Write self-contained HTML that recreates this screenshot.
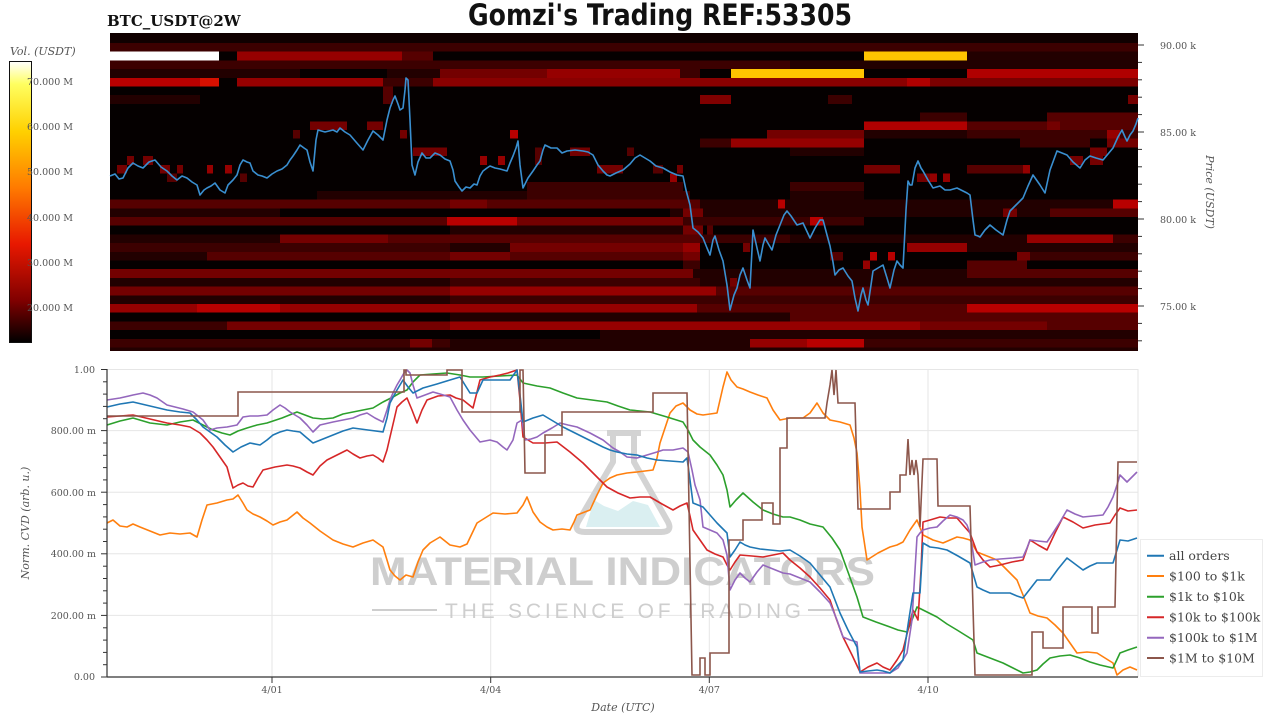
<!DOCTYPE html>
<html><head><meta charset="utf-8"><style>
html,body{margin:0;padding:0;background:#fff;}
svg{display:block;}
.ax{font-family:"DejaVu Serif","Liberation Serif",serif;font-size:9.5px;fill:#555;}
.lg{font-family:"DejaVu Serif","Liberation Serif",serif;font-size:12.5px;fill:#444;}
.it{font-family:"DejaVu Serif","Liberation Serif",serif;font-style:italic;font-size:11px;fill:#555;}
</style></head><body>
<svg width="1280" height="720" viewBox="0 0 1280 720" xmlns="http://www.w3.org/2000/svg">
<defs>
<linearGradient id="hot" x1="0" y1="0" x2="0" y2="1">
<stop offset="0" stop-color="#ffffff"/>
<stop offset="0.08" stop-color="#ffff60"/>
<stop offset="0.25" stop-color="#ffd000"/>
<stop offset="0.45" stop-color="#ff7a00"/>
<stop offset="0.65" stop-color="#e81800"/>
<stop offset="0.85" stop-color="#800000"/>
<stop offset="1" stop-color="#000000"/>
</linearGradient>
</defs>

<!-- Titles -->
<text x="107" y="26" font-family="DejaVu Serif, Liberation Serif, serif" font-weight="bold" font-size="15" fill="#111">BTC_USDT@2W</text>
<text x="468" y="25" font-family="DejaVu Sans, Liberation Sans, sans-serif" font-weight="bold" font-size="29" fill="#111" textLength="384" lengthAdjust="spacingAndGlyphs">Gomzi's Trading REF:53305</text>

<!-- Colorbar -->
<text x="10" y="55" class="it">Vol. (USDT)</text>
<rect x="9.5" y="61.5" width="22" height="281" fill="url(#hot)" stroke="#111" stroke-width="1"/>
<g class="ax" font-size="10">
<text x="27" y="85">70.000 M</text>
<text x="27" y="130">60.000 M</text>
<text x="27" y="175">50.000 M</text>
<text x="27" y="221">40.000 M</text>
<text x="27" y="266">30.000 M</text>
<text x="27" y="311">20.000 M</text>
</g>

<!-- Heatmap -->
<g shape-rendering="crispEdges">
<rect x="110" y="33" width="1028" height="318" fill="#050000"/>
<rect x="110" y="33" width="1028" height="10" fill="#100000"/>
<!-- row0 -->
<rect x="110" y="43" width="1028" height="8.7" fill="#3c0000"/>
<!-- row1 -->
<rect x="110" y="51.7" width="109" height="8.7" fill="#ffffff"/>
<rect x="237" y="51.7" width="165" height="8.7" fill="#960000"/>
<rect x="402" y="51.7" width="31" height="8.7" fill="#560000"/>
<rect x="864" y="51.7" width="103" height="8.7" fill="#ffc400"/>
<rect x="967" y="51.7" width="171" height="8.7" fill="#220000"/>
<!-- row2 -->
<rect x="110" y="60.4" width="680" height="8.7" fill="#3c0000"/>
<rect x="790" y="60.4" width="348" height="8.7" fill="#220000"/>
<!-- row3 -->
<rect x="110" y="69.1" width="190" height="8.7" fill="#220000"/>
<rect x="387" y="69.1" width="53" height="8.7" fill="#220000"/>
<rect x="440" y="69.1" width="107" height="8.7" fill="#740000"/>
<rect x="547" y="69.1" width="133" height="8.7" fill="#960000"/>
<rect x="680" y="69.1" width="20" height="8.7" fill="#3c0000"/>
<rect x="731" y="69.1" width="133" height="8.7" fill="#ffc400"/>
<rect x="967" y="69.1" width="171" height="8.7" fill="#b00000"/>
<!-- row4 -->
<rect x="110" y="77.8" width="90" height="8.7" fill="#b80000"/>
<rect x="200" y="77.8" width="19" height="8.7" fill="#d81000"/>
<rect x="237" y="77.8" width="146" height="8.7" fill="#960000"/>
<rect x="383" y="77.8" width="50" height="8.7" fill="#3c0000"/>
<rect x="433" y="77.8" width="474" height="8.7" fill="#8a0000"/>
<rect x="907" y="77.8" width="23" height="8.7" fill="#b00000"/>
<rect x="930" y="77.8" width="208" height="8.7" fill="#7a0000"/>
<!-- row6 -->
<rect x="110" y="95.2" width="90" height="8.7" fill="#220000"/>
<rect x="700" y="95.2" width="31" height="8.7" fill="#800000"/>
<rect x="828" y="95.2" width="24" height="8.7" fill="#3c0000"/>
<rect x="1128" y="95.2" width="10" height="8.7" fill="#740000"/>
<rect x="383" y="86.5" width="10" height="17.4" fill="#560000"/>
<!-- row8 -->
<rect x="920" y="112.6" width="47" height="8.7" fill="#3c0000"/>
<rect x="1047" y="112.6" width="91" height="8.7" fill="#560000"/>
<!-- row9 -->
<rect x="310" y="121.3" width="37" height="8.7" fill="#740000"/>
<rect x="367" y="121.3" width="16" height="8.7" fill="#740000"/>
<rect x="864" y="121.3" width="103" height="8.7" fill="#b00000"/>
<rect x="967" y="121.3" width="80" height="8.7" fill="#560000"/>
<rect x="1047" y="121.3" width="13" height="8.7" fill="#740000"/>
<rect x="1060" y="121.3" width="78" height="8.7" fill="#560000"/>
<!-- row10 -->
<rect x="293" y="130" width="7" height="8.7" fill="#560000"/>
<rect x="400" y="130" width="7" height="8.7" fill="#740000"/>
<rect x="510" y="130" width="8" height="8.7" fill="#b80000"/>
<rect x="767" y="130" width="97" height="8.7" fill="#740000"/>
<rect x="864" y="130" width="103" height="8.7" fill="#220000"/>
<rect x="967" y="130" width="140" height="8.7" fill="#3c0000"/>
<rect x="1107" y="130" width="13" height="8.7" fill="#960000"/>
<rect x="1120" y="130" width="18" height="8.7" fill="#3c0000"/>
<!-- row11 -->
<rect x="700" y="138.7" width="31" height="8.7" fill="#3c0000"/>
<rect x="731" y="138.7" width="133" height="8.7" fill="#960000"/>
<rect x="1020" y="138.7" width="70" height="8.7" fill="#3c0000"/>
<rect x="1107" y="138.7" width="31" height="8.7" fill="#740000"/>
<!-- row12 -->
<rect x="413" y="147.4" width="34" height="8.7" fill="#740000"/>
<rect x="570" y="147.4" width="20" height="8.7" fill="#740000"/>
<rect x="627" y="147.4" width="7" height="8.7" fill="#560000"/>
<rect x="790" y="147.4" width="74" height="8.7" fill="#220000"/>
<rect x="1090" y="147.4" width="17" height="8.7" fill="#740000"/>
<!-- row13 -->
<rect x="127" y="156.1" width="7" height="8.7" fill="#740000"/>
<rect x="143" y="156.1" width="10" height="8.7" fill="#740000"/>
<rect x="480" y="156.1" width="7" height="8.7" fill="#960000"/>
<rect x="498" y="156.1" width="7" height="8.7" fill="#960000"/>
<rect x="535" y="147.4" width="7" height="17.4" fill="#560000"/>
<rect x="1070" y="156.1" width="13" height="8.7" fill="#740000"/>
<rect x="1090" y="156.1" width="13" height="8.7" fill="#740000"/>
<!-- row14 -->
<rect x="117" y="164.8" width="10" height="8.7" fill="#740000"/>
<rect x="160" y="164.8" width="10" height="8.7" fill="#740000"/>
<rect x="177" y="164.8" width="6" height="8.7" fill="#740000"/>
<rect x="207" y="164.8" width="6" height="8.7" fill="#960000"/>
<rect x="225" y="164.8" width="7" height="8.7" fill="#960000"/>
<rect x="597" y="164.8" width="26" height="8.7" fill="#740000"/>
<rect x="653" y="164.8" width="10" height="8.7" fill="#560000"/>
<rect x="677" y="164.8" width="6" height="8.7" fill="#740000"/>
<rect x="864" y="164.8" width="36" height="8.7" fill="#740000"/>
<rect x="967" y="164.8" width="56" height="8.7" fill="#560000"/>
<rect x="1023" y="164.8" width="7" height="8.7" fill="#960000"/>
<!-- row15 -->
<rect x="167" y="173.5" width="10" height="8.7" fill="#560000"/>
<rect x="240" y="173.5" width="7" height="8.7" fill="#560000"/>
<rect x="670" y="173.5" width="7" height="8.7" fill="#960000"/>
<rect x="917" y="173.5" width="13" height="8.7" fill="#740000"/>
<rect x="930" y="173.5" width="7" height="8.7" fill="#960000"/>
<rect x="943" y="173.5" width="7" height="8.7" fill="#960000"/>
<!-- row16/17 -->
<rect x="527" y="182.2" width="156" height="8.7" fill="#3c0000"/>
<rect x="790" y="182.2" width="74" height="8.7" fill="#3c0000"/>
<rect x="317" y="190.9" width="210" height="8.7" fill="#220000"/>
<rect x="527" y="190.9" width="163" height="8.7" fill="#3c0000"/>
<rect x="790" y="190.9" width="74" height="8.7" fill="#220000"/>
<!-- row18 -->
<rect x="110" y="199.6" width="340" height="8.7" fill="#560000"/>
<rect x="450" y="199.6" width="37" height="8.7" fill="#740000"/>
<rect x="487" y="199.6" width="213" height="8.7" fill="#560000"/>
<rect x="700" y="199.6" width="78" height="8.7" fill="#220000"/>
<rect x="778" y="199.6" width="7" height="8.7" fill="#b80000"/>
<rect x="785" y="199.6" width="328" height="8.7" fill="#220000"/>
<rect x="1113" y="199.6" width="25" height="8.7" fill="#b80000"/>
<!-- row19 -->
<rect x="110" y="208.3" width="170" height="8.7" fill="#220000"/>
<rect x="670" y="208.3" width="333" height="8.7" fill="#220000"/>
<rect x="683" y="208.3" width="20" height="8.7" fill="#740000"/>
<rect x="1003" y="208.3" width="14" height="8.7" fill="#740000"/>
<rect x="1017" y="208.3" width="33" height="8.7" fill="#220000"/>
<rect x="1050" y="208.3" width="88" height="8.7" fill="#560000"/>
<!-- row20 -->
<rect x="110" y="217" width="337" height="8.7" fill="#560000"/>
<rect x="447" y="217" width="70" height="8.7" fill="#b80000"/>
<rect x="517" y="217" width="166" height="8.7" fill="#740000"/>
<rect x="683" y="217" width="127" height="8.7" fill="#3c0000"/>
<rect x="810" y="217" width="13" height="8.7" fill="#b80000"/>
<rect x="823" y="217" width="41" height="8.7" fill="#3c0000"/>
<!-- row21 -->
<rect x="450" y="225.7" width="233" height="8.7" fill="#220000"/>
<rect x="683" y="225.7" width="20" height="8.7" fill="#740000"/>
<rect x="707" y="225.7" width="6" height="8.7" fill="#560000"/>
<!-- row22 -->
<rect x="110" y="234.4" width="170" height="8.7" fill="#220000"/>
<rect x="280" y="234.4" width="108" height="8.7" fill="#740000"/>
<rect x="388" y="234.4" width="312" height="8.7" fill="#560000"/>
<rect x="700" y="234.4" width="90" height="8.7" fill="#3c0000"/>
<rect x="790" y="234.4" width="237" height="8.7" fill="#220000"/>
<rect x="1027" y="234.4" width="86" height="8.7" fill="#960000"/>
<rect x="1113" y="234.4" width="25" height="8.7" fill="#3c0000"/>
<!-- row23 -->
<rect x="110" y="243.1" width="340" height="8.7" fill="#3c0000"/>
<rect x="450" y="243.1" width="60" height="8.7" fill="#220000"/>
<rect x="510" y="243.1" width="173" height="8.7" fill="#740000"/>
<rect x="683" y="243.1" width="17" height="8.7" fill="#960000"/>
<rect x="743" y="243.1" width="7" height="8.7" fill="#740000"/>
<rect x="907" y="243.1" width="60" height="8.7" fill="#960000"/>
<rect x="967" y="243.1" width="171" height="8.7" fill="#220000"/>
<!-- row24 -->
<rect x="110" y="251.8" width="97" height="8.7" fill="#220000"/>
<rect x="207" y="251.8" width="243" height="8.7" fill="#560000"/>
<rect x="450" y="251.8" width="60" height="8.7" fill="#740000"/>
<rect x="510" y="251.8" width="173" height="8.7" fill="#560000"/>
<rect x="683" y="251.8" width="17" height="8.7" fill="#740000"/>
<rect x="830" y="251.8" width="13" height="8.7" fill="#560000"/>
<rect x="870" y="251.8" width="7" height="8.7" fill="#b80000"/>
<rect x="888" y="251.8" width="7" height="8.7" fill="#b80000"/>
<rect x="1017" y="251.8" width="13" height="8.7" fill="#740000"/>
<rect x="1030" y="251.8" width="108" height="8.7" fill="#3c0000"/>
<!-- row25 -->
<rect x="683" y="260.5" width="17" height="8.7" fill="#3c0000"/>
<rect x="863" y="260.5" width="7" height="8.7" fill="#960000"/>
<rect x="967" y="260.5" width="60" height="8.7" fill="#560000"/>
<!-- row26 -->
<rect x="110" y="269.2" width="583" height="8.7" fill="#740000"/>
<rect x="693" y="269.2" width="274" height="8.7" fill="#220000"/>
<rect x="967" y="269.2" width="171" height="8.7" fill="#560000"/>
<!-- row27 -->
<rect x="110" y="277.9" width="1028" height="8.7" fill="#220000"/>
<rect x="450" y="277.9" width="250" height="8.7" fill="#3c0000"/>
<rect x="730" y="277.9" width="7" height="8.7" fill="#740000"/>
<!-- row28 -->
<rect x="110" y="286.6" width="340" height="8.7" fill="#740000"/>
<rect x="450" y="286.6" width="266" height="8.7" fill="#960000"/>
<rect x="716" y="286.6" width="422" height="8.7" fill="#560000"/>
<!-- row29 -->
<rect x="110" y="295.3" width="340" height="8.7" fill="#220000"/>
<rect x="450" y="295.3" width="688" height="8.7" fill="#3c0000"/>
<!-- row30 -->
<rect x="110" y="304" width="87" height="8.7" fill="#960000"/>
<rect x="197" y="304" width="83" height="8.7" fill="#b80000"/>
<rect x="280" y="304" width="417" height="8.7" fill="#960000"/>
<rect x="697" y="304" width="270" height="8.7" fill="#560000"/>
<rect x="967" y="304" width="171" height="8.7" fill="#b80000"/>
<!-- row31 -->
<rect x="450" y="312.7" width="340" height="8.7" fill="#220000"/>
<rect x="790" y="312.7" width="348" height="8.7" fill="#560000"/>
<!-- row32 -->
<rect x="110" y="321.4" width="117" height="8.7" fill="#3c0000"/>
<rect x="227" y="321.4" width="223" height="8.7" fill="#740000"/>
<rect x="450" y="321.4" width="470" height="8.7" fill="#960000"/>
<rect x="920" y="321.4" width="127" height="8.7" fill="#740000"/>
<rect x="1047" y="321.4" width="91" height="8.7" fill="#560000"/>
<!-- row33 -->
<rect x="600" y="330.1" width="538" height="8.7" fill="#220000"/>
<!-- row34 -->
<rect x="110" y="338.8" width="300" height="8.7" fill="#3c0000"/>
<rect x="410" y="338.8" width="22" height="8.7" fill="#740000"/>
<rect x="432" y="338.8" width="18" height="8.7" fill="#3c0000"/>
<rect x="450" y="338.8" width="300" height="8.7" fill="#220000"/>
<rect x="750" y="338.8" width="57" height="8.7" fill="#960000"/>
<rect x="807" y="338.8" width="57" height="8.7" fill="#b80000"/>
<rect x="864" y="338.8" width="274" height="8.7" fill="#3c0000"/>
<!-- row35 -->
<rect x="110" y="347.5" width="1028" height="3.5" fill="#220000"/>
</g>

<!-- Price line -->
<polyline fill="none" stroke="#3a8fd0" stroke-width="1.6" stroke-linejoin="round" points="110,176 115,174 119,179 123,178 128,168 133,163 138,166 143,168 149,162 155,160 161,167 167,171 172,176 177,180 182,176 187,178 192,182 197,185 200,195 204,190 207,188 211,186 215,183 220,190 225,193 228,185 233,180 237,175 240,165 243,160 247,162 250,163 253,171 258,175 262,176 267,178 272,174 277,171 282,169 287,165 290,160 293,156 297,150 300,145 304,148 307,150 310,162 313,171 316,140 318,130 325,132 333,130 337,132 340,128 345,132 350,135 356,142 363,150 368,140 373,131 378,135 383,140 387,120 390,108 393,100 395,96 398,104 400,110 403,108 405,90 406,78 408,80 410,120 412,165 415,175 418,162 422,153 426,158 430,158 435,153 440,155 445,159 450,161 453,170 455,181 459,187 462,191 466,187 470,188 474,184 477,185 480,176 483,171 487,168 490,166 495,168 500,169 507,171 510,163 513,156 516,148 518,141 520,165 523,188 528,178 533,171 537,165 540,161 543,150 545,145 551,148 557,148 562,153 567,151 575,150 583,151 588,152 593,155 598,165 603,171 607,175 610,176 616,173 623,170 630,164 635,158 640,155 645,158 650,161 656,166 663,168 670,172 677,175 683,176 686,190 690,205 693,228 698,232 703,238 707,248 710,255 713,240 715,236 719,250 723,261 727,285 730,310 734,295 737,288 740,275 743,268 747,280 750,288 752,250 753,230 757,248 760,261 763,245 765,238 769,245 772,250 776,235 780,225 784,215 787,211 791,216 797,225 803,223 810,238 815,228 820,220 823,220 827,235 830,246 833,262 835,275 839,270 843,268 848,276 852,281 855,298 858,311 861,295 863,288 866,300 868,305 871,285 873,271 878,268 883,265 887,278 890,288 894,270 897,261 900,265 903,268 906,210 908,181 910,185 912,185 915,168 918,161 921,168 923,171 928,180 933,188 940,186 945,190 950,190 957,188 963,191 967,193 970,195 973,220 975,235 978,236 980,237 985,230 990,225 996,230 1003,235 1007,220 1010,211 1016,205 1023,198 1028,186 1033,175 1040,185 1045,193 1050,170 1057,151 1062,153 1067,155 1073,162 1080,168 1085,160 1090,156 1096,158 1103,160 1108,154 1113,148 1118,137 1122,130 1125,137 1127,141 1130,135 1133,131 1136,124 1138,118"/>

<!-- Right axis -->
<g stroke="#333" stroke-width="1">
<line x1="1138" y1="45" x2="1144" y2="45"/>
<line x1="1138" y1="62.4" x2="1142" y2="62.4"/>
<line x1="1138" y1="79.8" x2="1142" y2="79.8"/>
<line x1="1138" y1="97.2" x2="1142" y2="97.2"/>
<line x1="1138" y1="114.6" x2="1142" y2="114.6"/>
<line x1="1138" y1="132" x2="1144" y2="132"/>
<line x1="1138" y1="149.4" x2="1142" y2="149.4"/>
<line x1="1138" y1="166.8" x2="1142" y2="166.8"/>
<line x1="1138" y1="184.2" x2="1142" y2="184.2"/>
<line x1="1138" y1="201.6" x2="1142" y2="201.6"/>
<line x1="1138" y1="219" x2="1144" y2="219"/>
<line x1="1138" y1="236.4" x2="1142" y2="236.4"/>
<line x1="1138" y1="253.8" x2="1142" y2="253.8"/>
<line x1="1138" y1="271.2" x2="1142" y2="271.2"/>
<line x1="1138" y1="288.6" x2="1142" y2="288.6"/>
<line x1="1138" y1="306" x2="1144" y2="306"/>
<line x1="1138" y1="323.4" x2="1142" y2="323.4"/>
<line x1="1138" y1="340.8" x2="1142" y2="340.8"/>
</g>
<g class="ax" font-size="10">
<text x="1160" y="49">90.00 k</text>
<text x="1160" y="136">85.00 k</text>
<text x="1160" y="223">80.00 k</text>
<text x="1160" y="310">75.00 k</text>
</g>
<text class="it" transform="translate(1206,192) rotate(90)" text-anchor="middle">Price (USDT)</text>

<!-- Bottom chart grid -->
<g stroke="#e6e6e6" stroke-width="1">
<line x1="107" y1="369.5" x2="1138" y2="369.5"/>
<line x1="107" y1="430.6" x2="1138" y2="430.6"/>
<line x1="107" y1="492.2" x2="1138" y2="492.2"/>
<line x1="107" y1="553.8" x2="1138" y2="553.8"/>
<line x1="107" y1="615.4" x2="1138" y2="615.4"/>
<line x1="272" y1="369" x2="272" y2="677"/>
<line x1="490.7" y1="369" x2="490.7" y2="677"/>
<line x1="709.3" y1="369" x2="709.3" y2="677"/>
<line x1="928" y1="369" x2="928" y2="677"/>
<line x1="1138" y1="369" x2="1138" y2="677"/>
</g>

<!-- Watermark -->
<g opacity="0.9">
<path d="M607 433 L641 433 M613 433 L613 462 L578 522 Q573 532 585 532 L661 532 Q673 532 668 522 L634 462 L634 433" fill="none" stroke="#cfcfcf" stroke-width="6" stroke-linejoin="round"/>
<polygon points="586,527 594,500 604,506 618,511 633,501 648,505 660,527" fill="#d6eef0"/>
<text x="370" y="585" font-family="Liberation Sans, sans-serif" font-weight="bold" font-size="40" fill="#c9c9c9" textLength="505" lengthAdjust="spacingAndGlyphs">MATERIAL INDICATORS</text>
<text x="445" y="618" font-family="Liberation Sans, sans-serif" font-size="21" fill="#c9c9c9" textLength="356" lengthAdjust="spacing">THE SCIENCE OF TRADING</text>
<line x1="372" y1="610" x2="437" y2="610" stroke="#c9c9c9" stroke-width="2"/>
<line x1="808" y1="610" x2="873" y2="610" stroke="#c9c9c9" stroke-width="2"/>
</g>

<!-- Series -->
<g fill="none" stroke-width="1.6" stroke-linejoin="round">
<!-- orange -->
<polyline stroke="#ff7f0e" points="107,523 113,520 120,526 127,527 133,524 140,527 150,531 160,535 170,533 180,534 190,533 197,537 202,520 207,505 217,503 227,500 233,499 238,495 243,503 247,510 253,514 260,517 267,521 273,525 280,522 287,520 292,516 297,512 303,518 310,523 320,531 333,540 343,544 353,547 363,543 373,540 383,547 387,560 390,570 395,576 400,580 406,575 413,577 418,562 423,550 430,543 440,537 450,545 460,547 467,544 477,523 485,518 493,513 505,514 517,513 523,505 527,497 533,512 540,522 547,527 553,530 562,529 570,530 574,522 577,515 590,510 597,495 603,483 610,478 617,475 627,473 637,472 645,471 653,470 657,458 660,443 665,428 670,413 676,406 683,403 690,410 697,414 703,415 710,414 717,413 720,400 723,387 727,372 731,380 737,387 743,389 750,392 758,395 767,398 773,410 780,420 790,418 797,418 803,418 810,413 817,403 823,413 830,420 840,422 850,425 854,438 857,453 860,490 862,527 867,560 878,553 890,547 897,545 903,542 910,530 917,520 923,535 933,540 943,543 950,540 957,537 963,538 970,540 977,552 987,556 997,560 1007,570 1017,580 1023,595 1030,613 1038,616 1047,618 1055,625 1063,633 1070,643 1077,653 1087,652 1097,653 1105,658 1113,663 1117,675 1123,670 1130,667 1137,670"/>
<!-- green -->
<polyline stroke="#2ca02c" points="107,425 120,421 133,418 150,423 167,425 180,422 193,420 203,425 213,430 222,433 230,435 238,431 247,428 257,425 267,423 282,418 297,412 305,415 313,418 323,419 333,418 343,414 353,412 363,410 373,408 383,402 393,397 400,393 407,390 413,382 420,375 433,374 447,373 460,375 470,377 483,377 500,376 517,375 523,383 537,386 550,388 563,393 577,398 592,400 607,402 618,406 630,410 640,411 650,412 667,417 683,422 688,430 693,440 700,447 710,455 717,465 723,475 727,490 730,507 736,500 743,493 753,502 763,510 773,514 783,517 790,517 800,520 810,524 823,527 832,538 840,550 848,572 857,597 860,607 863,617 876,622 890,627 898,630 907,632 912,620 917,607 927,612 937,617 947,624 957,630 965,635 973,640 977,653 990,658 1003,663 1013,668 1023,673 1030,672 1037,670 1043,664 1050,658 1060,656 1070,655 1080,658 1090,662 1100,665 1113,668 1120,653 1128,650 1137,647"/>
<!-- red -->
<polyline stroke="#d62728" points="107,417 120,416 133,415 150,419 167,423 180,425 190,427 195,430 200,433 207,440 213,447 220,457 227,467 230,478 233,488 238,485 243,483 248,486 253,487 258,478 263,470 275,467 287,465 293,466 300,468 307,472 313,475 320,466 327,460 337,455 347,450 353,454 360,458 367,456 373,455 378,458 383,462 387,450 390,437 394,420 397,407 402,402 407,398 412,410 417,423 422,410 427,400 438,396 450,395 456,398 463,400 468,404 473,408 477,392 480,380 490,377 500,375 508,373 517,370 520,400 523,437 528,440 533,443 545,443 557,442 570,452 583,463 595,475 607,487 618,493 630,498 640,497 650,497 662,504 673,510 680,506 687,503 690,516 693,530 700,540 707,550 715,554 723,557 727,565 730,570 735,562 740,555 752,556 763,557 773,555 783,553 790,560 800,568 810,577 820,588 830,600 836,618 843,637 852,655 860,672 868,667 877,663 883,667 890,670 897,660 903,650 908,630 913,610 918,620 921,570 923,522 930,520 940,517 948,518 957,518 963,525 970,533 977,552 983,560 990,567 1000,565 1012,562 1023,560 1030,540 1038,545 1047,550 1055,533 1063,517 1073,522 1083,528 1095,525 1110,523 1115,515 1120,508 1128,511 1137,510"/>
<!-- purple -->
<polyline stroke="#9467bd" points="107,400 120,398 133,395 143,393 150,395 157,398 167,405 175,407 183,409 193,412 203,420 210,430 217,428 227,427 237,425 243,417 250,416 258,416 267,415 273,410 280,405 285,408 290,412 300,418 307,425 313,432 320,425 333,422 343,420 353,418 360,415 367,413 375,418 383,422 387,410 390,400 393,393 397,385 400,380 404,373 407,370 410,373 413,385 417,398 425,395 433,392 440,394 450,397 457,410 463,420 470,430 475,436 480,442 490,440 497,442 503,447 507,450 513,440 517,423 522,420 525,440 531,439 537,437 543,433 552,428 560,423 568,425 577,427 590,433 603,440 613,448 620,452 627,457 637,458 647,455 657,452 663,450 673,450 683,448 688,452 692,470 695,485 700,500 703,527 710,530 717,533 723,540 727,555 730,590 735,580 740,573 745,578 750,582 757,572 763,565 773,569 783,573 790,574 800,578 810,582 820,592 830,603 837,620 843,637 850,640 857,642 860,673 875,673 890,673 898,668 907,653 912,620 917,537 920,533 923,530 930,528 937,527 943,521 950,515 957,517 963,520 967,525 970,533 975,565 983,562 990,560 1000,559 1013,558 1023,557 1027,548 1030,540 1038,541 1047,542 1053,533 1060,522 1067,510 1075,514 1083,517 1093,516 1103,515 1108,507 1113,497 1117,485 1120,475 1123,478 1127,482 1132,477 1137,472"/>
<!-- blue -->
<polyline stroke="#1f77b4" points="107,407 120,404 133,402 150,406 167,410 180,412 190,413 197,420 203,427 210,432 217,437 225,445 233,452 241,447 250,443 260,445 267,440 273,435 280,432 287,430 293,431 300,432 307,438 313,443 323,439 333,435 343,431 353,428 368,430 383,432 387,418 390,403 397,390 403,380 408,387 413,393 423,388 437,384 450,380 460,377 465,385 470,393 477,393 483,380 497,380 510,380 517,370 520,395 523,422 533,418 543,415 553,421 563,427 573,432 583,437 593,442 603,447 610,450 617,452 627,454 637,455 647,458 657,460 670,461 683,462 687,458 690,480 693,503 698,505 703,507 710,515 717,523 722,528 727,533 730,557 735,550 740,542 745,545 750,547 760,549 770,550 780,551 790,550 800,556 810,563 820,575 830,587 835,600 840,613 848,630 857,647 860,672 868,671 877,670 883,671 890,673 897,666 903,660 908,625 913,593 917,593 920,593 923,543 930,547 938,548 947,550 958,556 970,563 977,587 983,590 990,593 1000,593 1010,593 1017,596 1023,598 1030,589 1037,580 1043,580 1050,580 1058,569 1067,558 1075,564 1083,570 1090,566 1097,563 1105,563 1113,563 1117,550 1120,540 1128,541 1137,538"/>
<!-- brown -->
<polyline stroke="#8c564b" stroke-linejoin="miter" points="107,416 238,416 238,392 404,392 404,370 406,370 406,375 447,375 447,370 462,370 462,412 520,412 520,370 523,370 525,473 545,473 545,435 562,435 562,412 653,412 653,393 687,393 692,675 700,675 700,658 705,658 705,675 710,675 710,653 729,653 729,540 743,540 743,520 762,520 762,503 773,503 773,524 780,524 780,448 787,448 787,418 825,418 827,403 830,385 832,370 834,395 836,370 838,403 855,403 858,509 890,509 890,492 900,492 900,475 906,475 908,439 910,475 912,460 914,475 916,460 918,475 920,527 923,459 937,459 938,506 970,506 975,675 1032,675 1032,632 1043,632 1043,648 1063,648 1063,607 1092,607 1092,633 1098,633 1098,607 1115,607 1118,462 1137,462"/>
</g>

<!-- Bottom axes -->
<g stroke="#333" stroke-width="1.2">
<line x1="107" y1="369" x2="107" y2="677.5"/>
<line x1="107" y1="677" x2="1138" y2="677"/>
</g>
<g stroke="#333" stroke-width="1">
<line x1="101" y1="369.5" x2="107" y2="369.5"/>
<line x1="103" y1="381.8" x2="107" y2="381.8"/>
<line x1="103" y1="394.1" x2="107" y2="394.1"/>
<line x1="103" y1="406.4" x2="107" y2="406.4"/>
<line x1="103" y1="418.7" x2="107" y2="418.7"/>
<line x1="101" y1="430.6" x2="107" y2="430.6"/>
<line x1="103" y1="443" x2="107" y2="443"/>
<line x1="103" y1="455.3" x2="107" y2="455.3"/>
<line x1="103" y1="467.6" x2="107" y2="467.6"/>
<line x1="103" y1="479.9" x2="107" y2="479.9"/>
<line x1="101" y1="492.2" x2="107" y2="492.2"/>
<line x1="103" y1="504.6" x2="107" y2="504.6"/>
<line x1="103" y1="516.9" x2="107" y2="516.9"/>
<line x1="103" y1="529.2" x2="107" y2="529.2"/>
<line x1="103" y1="541.5" x2="107" y2="541.5"/>
<line x1="101" y1="553.8" x2="107" y2="553.8"/>
<line x1="103" y1="566.2" x2="107" y2="566.2"/>
<line x1="103" y1="578.5" x2="107" y2="578.5"/>
<line x1="103" y1="590.8" x2="107" y2="590.8"/>
<line x1="103" y1="603.1" x2="107" y2="603.1"/>
<line x1="101" y1="615.4" x2="107" y2="615.4"/>
<line x1="103" y1="627.8" x2="107" y2="627.8"/>
<line x1="103" y1="640.1" x2="107" y2="640.1"/>
<line x1="103" y1="652.4" x2="107" y2="652.4"/>
<line x1="103" y1="664.7" x2="107" y2="664.7"/>
<line x1="101" y1="677" x2="107" y2="677"/>
<line x1="272" y1="677" x2="272" y2="683"/>
<line x1="490.7" y1="677" x2="490.7" y2="683"/>
<line x1="709.3" y1="677" x2="709.3" y2="683"/>
<line x1="928" y1="677" x2="928" y2="683"/>
</g>
<g class="ax" text-anchor="end">
<text x="95" y="373">1.00</text>
<text x="96" y="434">800.00 m</text>
<text x="96" y="496">600.00 m</text>
<text x="96" y="557">400.00 m</text>
<text x="96" y="619">200.00 m</text>
<text x="95" y="680">0.00</text>
</g>
<g class="ax" text-anchor="middle">
<text x="272" y="693">4/01</text>
<text x="490.7" y="693">4/04</text>
<text x="709.3" y="693">4/07</text>
<text x="928" y="693">4/10</text>
</g>
<text class="it" x="623" y="711" text-anchor="middle">Date (UTC)</text>
<text class="it" transform="translate(29,523) rotate(-90)" text-anchor="middle">Norm. CVD (arb. u.)</text>

<!-- Legend -->
<rect x="1140.5" y="539.5" width="122" height="137" fill="#fff" stroke="#ececec" stroke-width="1"/>
<g stroke-width="2">
<line x1="1147" y1="555.7" x2="1164" y2="555.7" stroke="#1f77b4"/>
<line x1="1147" y1="576" x2="1164" y2="576" stroke="#ff7f0e"/>
<line x1="1147" y1="596.7" x2="1164" y2="596.7" stroke="#2ca02c"/>
<line x1="1147" y1="617.3" x2="1164" y2="617.3" stroke="#d62728"/>
<line x1="1147" y1="637.7" x2="1164" y2="637.7" stroke="#9467bd"/>
<line x1="1147" y1="658" x2="1164" y2="658" stroke="#8c564b"/>
</g>
<g class="lg">
<text x="1169" y="560">all orders</text>
<text x="1169" y="580.5">$100 to $1k</text>
<text x="1169" y="601">$1k to $10k</text>
<text x="1169" y="621.5">$10k to $100k</text>
<text x="1169" y="642">$100k to $1M</text>
<text x="1169" y="662.5">$1M to $10M</text>
</g>
</svg>
</body></html>
